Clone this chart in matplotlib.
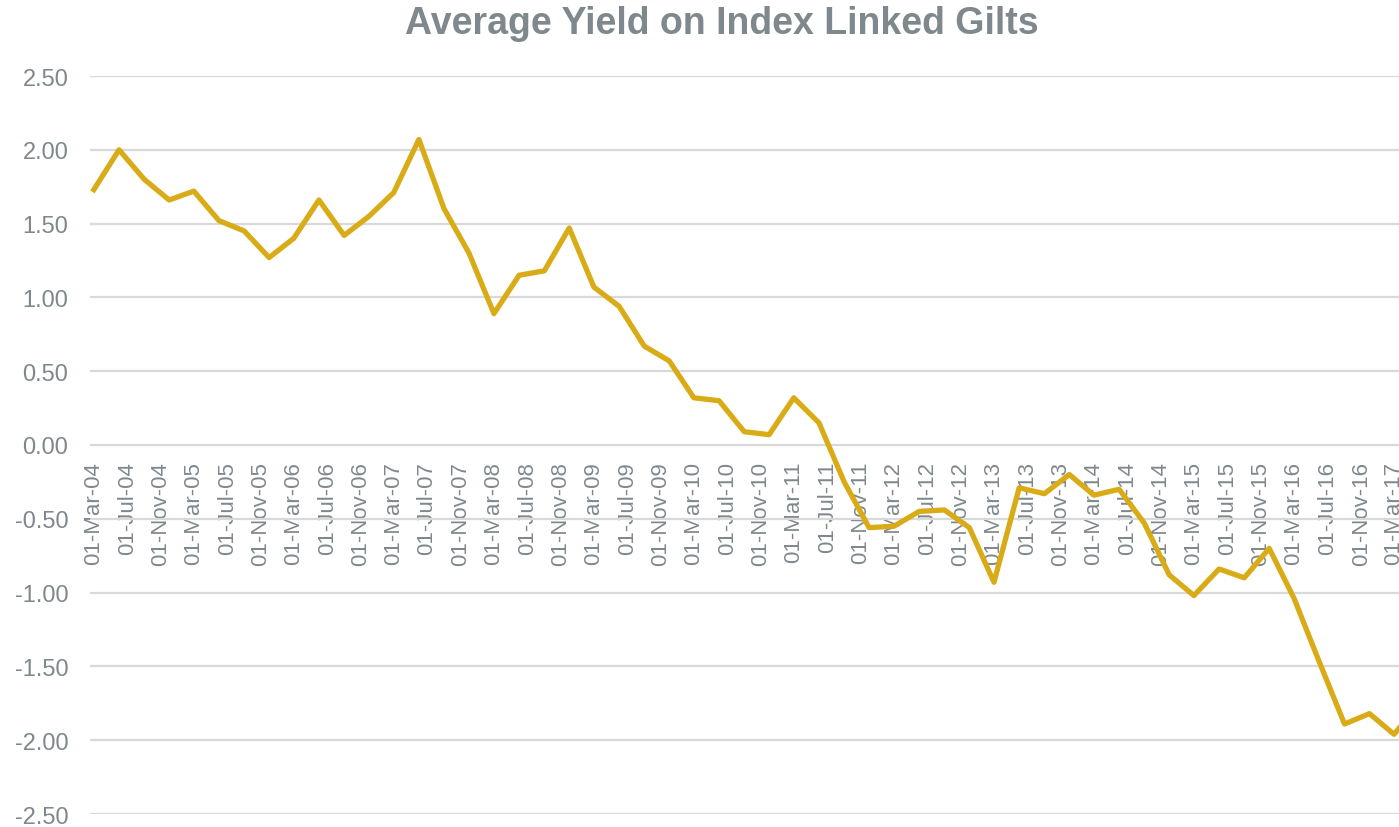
import matplotlib
matplotlib.use('Agg')
import matplotlib.pyplot as plt
import matplotlib.dates as mdates
import pandas as pd

# Quarterly average yield on index linked gilts, starting 01-Mar-04
start_date = '2004-03-01'
yields = [
    1.73, 2.00, 1.80, 1.66, 1.72, 1.52, 1.45, 1.27, 1.40, 1.66,
    1.42, 1.55, 1.71, 2.07, 1.60, 1.30, 0.89, 1.15, 1.18, 1.47,
    1.07, 0.94, 0.67, 0.57, 0.32, 0.30, 0.09, 0.07, 0.32, 0.15,
    -0.25, -0.56, -0.55, -0.45, -0.44, -0.56, -0.93, -0.29, -0.33, -0.20,
    -0.34, -0.30, -0.53, -0.88, -1.02, -0.84, -0.90, -0.70, -1.04, -1.47,
    -1.89, -1.82, -1.96, -1.75,
]
yticks = [2.5, 2.0, 1.5, 1.0, 0.5, 0.0, -0.5, -1.0, -1.5, -2.0, -2.5]

dates = pd.date_range(start_date, periods=len(yields), freq='3MS')

GRAY = '#7f888c'
GOLD = '#d9ab16'

plt.rcParams['font.family'] = ['Liberation Sans', 'DejaVu Sans']

fig = plt.figure(figsize=(13.99, 8.28), dpi=100)
ax = fig.add_axes([90 / 1399, 1 - 815 / 828, 1 - 90 / 1399, (815 - 77) / 828])

ax.plot(dates, yields, color=GOLD, linewidth=3.8, zorder=3)

ax.set_ylim(-2.5, 2.5)
ax.set_yticks(yticks)
ax.set_yticklabels([f"{v:.2f}" for v in yticks])
ax.set_xlim(pd.Timestamp('2004-02-16'), pd.Timestamp('2017-03-19'))

ax.xaxis.set_major_locator(mdates.MonthLocator(bymonth=[3, 7, 11], bymonthday=1))
ax.xaxis.set_major_formatter(mdates.DateFormatter('%d-%b-%y'))

# labels sit next to the zero line, like Excel
ax.spines['bottom'].set_position(('data', 0))
for s in ax.spines.values():
    s.set_visible(False)

ax.grid(axis='y', color='#d9d9d9', linewidth=1.6)
ax.set_axisbelow(True)
ax.tick_params(axis='x', length=0, pad=11.5, labelsize=16, labelcolor=GRAY, labelrotation=90)
ax.tick_params(axis='y', length=0, pad=15.5, labelsize=17, labelcolor=GRAY)
for lbl in ax.get_xticklabels():
    lbl.set_va('top')
    lbl.set_ha('center')

fig.text(722 / 1399, 1 - 24 / 828, 'Average Yield on Index Linked Gilts',
         ha='center', va='center', fontsize=27, fontweight='bold', color=GRAY)

plt.savefig('out.png', dpi=100)
